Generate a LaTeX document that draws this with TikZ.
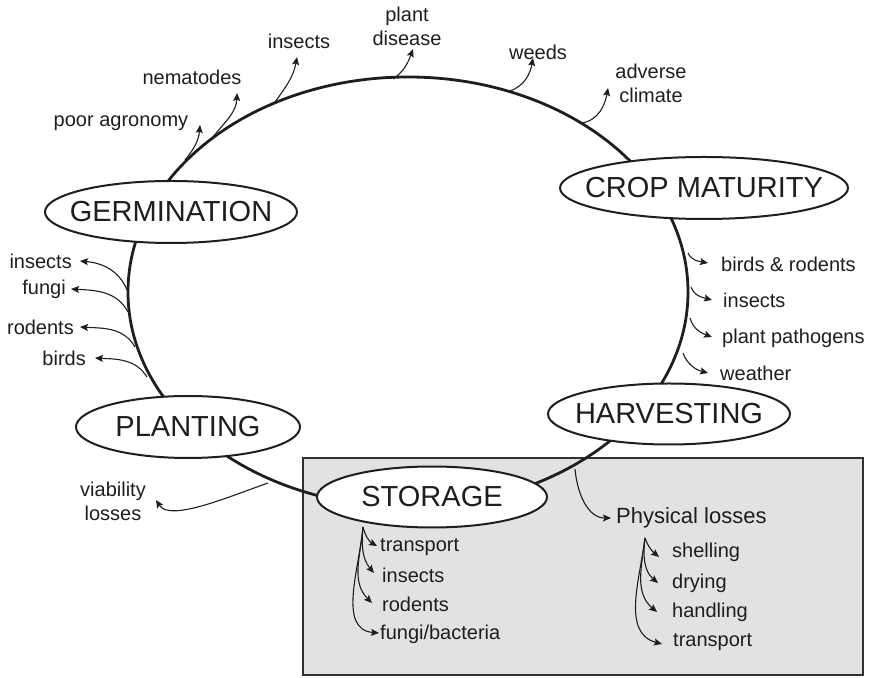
\documentclass[tikz,border=0pt]{standalone}
\usepackage{fontspec}
\setmainfont{Liberation Sans}
\usetikzlibrary{arrows.meta,shapes.geometric}
\definecolor{ink}{HTML}{1E1E1E}
\definecolor{boxfill}{HTML}{E1E2E4}
\definecolor{boxline}{HTML}{303030}
\tikzset{
  stage/.style={ellipse, draw=ink, line width=2pt, fill=white, inner sep=0pt,
    minimum height=62pt, font=\fontsize{29}{30}\selectfont, text=ink},
  lbl/.style={inner sep=0pt, font=\fontsize{20}{24}\selectfont, text=ink, align=center},
  big/.style={inner sep=0pt, font=\fontsize{22}{26}\selectfont, text=ink},
  br/.style={draw=ink, line width=1.1pt, -{Stealth[length=8pt,width=7pt,inset=1.5pt]}},
  cycle/.style={draw=ink, line width=2.8pt}
}
\begin{document}
\begin{tikzpicture}[x=1pt,y=1pt]
\useasboundingbox (0,0) rectangle (872,677);
% grey box
\draw[fill=boxfill, draw=boxline, line width=1.8pt] (303,2) rectangle (863,219);
% main cycle
\draw[cycle] (408,385) ellipse [x radius=280pt, y radius=215pt];

% ---- top branch starts/tips
\coordinate (sAgr) at (185,517); \coordinate (tAgr) at (200,552);
\coordinate (sNem) at (213,540); \coordinate (tNem) at (237,584);
\coordinate (sIns) at (273,572); \coordinate (tIns) at (297,620);
\coordinate (sDis) at (393,598); \coordinate (tDis) at (413,628);
\coordinate (sWee) at (510,586); \coordinate (tWee) at (533,619);
\coordinate (sCli) at (582,554); \coordinate (tCli) at (608,589);
\node[lbl] (agr) at (121,554) {poor agronomy};
\node[lbl] (nem) at (192,600) {nematodes};
\node[lbl] (ins) at (299,636) {insects};
\node[lbl] (dis) at (407,651) {plant\\disease};
\node[lbl] (wee) at (538,625) {weeds};
\node[lbl] (cli) at (651,594) {adverse\\climate};
\draw[br] (sAgr) to[out=50,in=-95] (tAgr);
\draw[br] (sNem) to[out=52,in=-92] (tNem);
\draw[br] (sIns) to[out=55,in=-100] (tIns);
\draw[br] (sDis) to[out=35,in=-110] (tDis);
\draw[br] (sWee) to[out=20,in=-100] (tWee);
\draw[br] (sCli) to[out=10,in=-100] (tCli);

% ---- left branches
\coordinate (sLi) at (127,387); \coordinate (tLi) at (80,416);
\coordinate (sLf) at (128,365); \coordinate (tLf) at (71,388);
\coordinate (sLr) at (135,330); \coordinate (tLr) at (80,350);
\coordinate (sLb) at (147,300); \coordinate (tLb) at (95,319);
\node[lbl, anchor=east] (lins) at (72,416) {insects};
\node[lbl, anchor=east] (lfun) at (66,388) {fungi};
\node[lbl, anchor=east] (lrod) at (74,350) {rodents};
\node[lbl, anchor=east] (lbir) at (86,319) {birds};
\draw[br] (sLi) to[out=112,in=-5] (tLi);
\draw[br] (sLf) to[out=118,in=-3] (tLf);
\draw[br] (sLr) to[out=120,in=-3] (tLr);
\draw[br] (sLb) to[out=122,in=-3] (tLb);

% ---- right branches
\coordinate (sRb) at (688,424); \coordinate (tRb) at (708,414);
\coordinate (sRi) at (691,390); \coordinate (tRi) at (712,377);
\coordinate (sRp) at (690,359); \coordinate (tRp) at (712,340);
\coordinate (sRw) at (683,324); \coordinate (tRw) at (708,304);
\node[lbl, anchor=west] (rbr) at (721,413) {birds \& rodents};
\node[lbl, anchor=west] (rin) at (723,377) {insects};
\node[lbl, anchor=west] (rpa) at (722,339) {plant pathogens};
\node[lbl, anchor=west] (rwe) at (720,304) {weather};
\draw[br] (sRb) to[out=-65,in=170] (tRb);
\draw[br] (sRi) to[out=-70,in=165] (tRi);
\draw[br] (sRp) to[out=-75,in=160] (tRp);
\draw[br] (sRw) to[out=-70,in=165] (tRw);

% ---- viability losses
\coordinate (sVia) at (268,194); \coordinate (tVia) at (156,177);
\node[lbl] (via) at (113,176) {viability\\losses};
\draw[br] (sVia) .. controls (228,180) and (170,155) .. (tVia);

% ---- storage branches
\coordinate (sSt) at (363,150);
\coordinate (tSt1) at (377,131); \coordinate (tSt2) at (374,104);
\coordinate (tSt3) at (372,74);  \coordinate (tSt4) at (379,44);
\node[lbl, anchor=west] (st1) at (380,130) {transport};
\node[lbl, anchor=west] (st2) at (382,102) {insects};
\node[lbl, anchor=west] (st3) at (382,73) {rodents};
\node[lbl, anchor=west] (st4) at (380,43) {fungi/bacteria};
\draw[br] (sSt) to[out=-75,in=150] (tSt1);
\draw[br] (sSt) to[out=-95,in=130] (tSt2);
\draw[br] (sSt) to[out=-95,in=135] (tSt3);
\draw[br] (sSt) to[out=-95,in=175] (tSt4);

% ---- physical losses
\coordinate (sPh) at (575,208); \coordinate (tPh) at (611,159);
\node[big, anchor=west] (phy) at (616,159) {Physical losses};
\draw[br] (sPh) to[out=-85,in=180] (tPh);
\coordinate (sPs) at (645,139);
\coordinate (tP1) at (659,120); \coordinate (tP2) at (658,94);
\coordinate (tP3) at (657,65);  \coordinate (tP4) at (662,33);
\node[lbl, anchor=west] (p1) at (672,125) {shelling};
\node[lbl, anchor=west] (p2) at (672,94) {drying};
\node[lbl, anchor=west] (p3) at (672,65) {handling};
\node[lbl, anchor=west] (p4) at (673,35) {transport};
\draw[br] (sPs) to[out=-70,in=140] (tP1);
\draw[br] (sPs) to[out=-97,in=140] (tP2);
\draw[br] (sPs) to[out=-97,in=140] (tP3);
\draw[br] (sPs) to[out=-97,in=165] (tP4);

% ---- stage nodes
\node[stage, minimum width=252pt] (germ) at (171,465) {\makebox[0pt]{GERMINATION}};
\node[stage, minimum width=288pt] (crop) at (704,489) {\makebox[0pt]{CROP MATURITY}};
\node[stage, minimum width=224pt] (plnt) at (188,250) {\makebox[0pt]{PLANTING}};
\node[stage, minimum width=242pt, minimum height=61pt] (harv) at (669,263) {\makebox[0pt]{HARVESTING}};
\node[stage, minimum width=230pt, minimum height=61pt] (stor) at (432,180) {\makebox[0pt]{STORAGE}};
\end{tikzpicture}
\end{document}
